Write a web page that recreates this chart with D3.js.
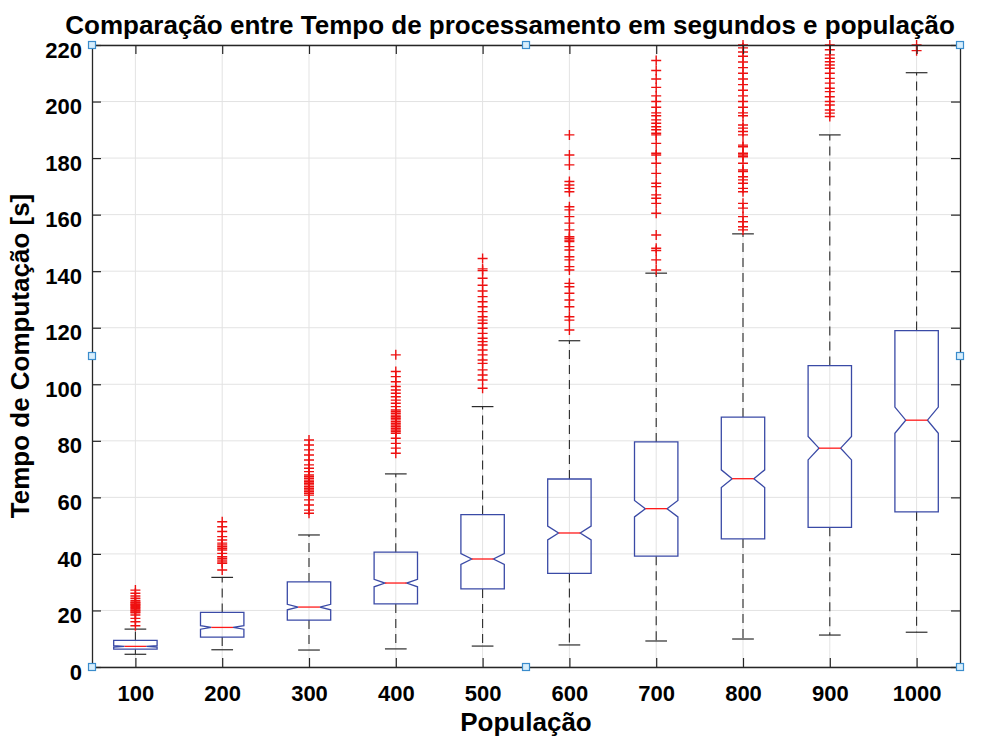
<!DOCTYPE html>
<html>
<head>
<meta charset="utf-8">
<script src="https://cdn.jsdelivr.net/npm/d3@7"></script>
<style>
  html, body { margin: 0; padding: 0; background: #ffffff; }
  svg { display: block; font-family: "Liberation Sans", Arial, Helvetica, sans-serif; }
</style>
</head>
<body>
<svg id="chart" width="988" height="740"></svg>
<script>
// ---------------- data ----------------
const categories = ["100", "200", "300", "400", "500", "600", "700", "800", "900", "1000"];
const yTickValues = [0, 20, 40, 60, 80, 100, 120, 140, 160, 180, 200, 220];

const q1Values      = [6.3, 10.6, 16.6, 22.3, 27.6, 33.1, 39.2, 45.3, 49.4, 54.9];
const medianValues  = [7.3, 14.0, 21.2, 29.7, 38.2, 47.4, 56.0, 66.6, 77.4, 87.3];
const q3Values      = [9.4, 19.3, 30.1, 40.6, 53.9, 66.5, 79.6, 88.4, 106.6, 119.0];
const lowerWhisker  = [4.5, 6.1, 6.0, 6.4, 7.4, 7.8, 9.2, 9.9, 11.3, 12.3];
const upperWhisker  = [13.4, 31.7, 46.7, 68.3, 92.1, 115.4, 139.3, 153.2, 188.2, 210.2];
const sampleSize = 470;

const outliers100 = [14.6, 16.0, 17.2, 18.4, 19.2, 19.5, 19.9, 20.2, 20.6, 21.0, 21.3, 21.7, 22.0, 22.3, 22.7, 23.0, 23.5, 24.3, 25.1, 26.1, 27.2];
const outliers200 = [34.3, 36.7, 37.2, 37.8, 38.4, 39.0, 40.2, 41.4, 42.0, 42.6, 43.2, 43.8, 44.9, 46.1, 47.9, 49.6, 51.4];
const outliers300 = [54.4, 55.5, 57.3, 59.1, 60.8, 61.4, 62.0, 62.6, 63.2, 63.8, 64.4, 65.0, 65.5, 66.1, 66.7, 67.3, 67.9, 69.1, 70.3, 71.5, 73.2, 75.0, 76.8, 78.5, 80.3];
const outliers400 = [75.6, 77.4, 79.1, 80.9, 82.7, 83.3, 83.8, 84.4, 85.0, 85.6, 86.2, 86.8, 87.4, 88.0, 88.5, 89.1, 89.7, 90.3, 90.9, 92.1, 93.3, 94.4, 95.6, 96.8, 98.0, 99.2, 100.9, 102.7, 104.5, 110.4];
const outliers500 = [98.6, 101.5, 103.3, 105.1, 107.4, 108.6, 110.4, 112.1, 113.9, 115.1, 116.3, 118.0, 119.8, 121.6, 122.7, 123.9, 125.7, 127.4, 129.2, 131.0, 133.0, 135.0, 137.5, 140.2, 140.8, 144.5];
const outliers600 = [119.2, 122.7, 123.9, 127.4, 129.8, 132.2, 134.5, 135.7, 140.4, 141.6, 144.0, 145.1, 147.5, 148.7, 150.5, 151.0, 151.6, 152.2, 154.6, 157.0, 159.3, 161.7, 162.8, 168.1, 169.3, 170.5, 171.7, 177.6, 181.1, 188.2];
const outliers700 = [140.4, 144.0, 147.3, 148.1, 152.8, 160.5, 164.0, 165.8, 167.0, 169.9, 171.1, 174.6, 178.2, 181.1, 181.7, 185.2, 188.2, 188.8, 190.0, 191.1, 192.3, 193.5, 195.0, 196.0, 198.0, 200.0, 202.0, 205.0, 208.0, 211.0, 214.5];
const outliers800 = [154.6, 155.7, 157.5, 159.3, 162.3, 164.0, 168.1, 169.3, 171.1, 172.3, 173.4, 175.2, 175.8, 178.2, 180.5, 181.1, 181.7, 184.0, 184.6, 188.2, 189.4, 190.6, 191.7, 195.0, 196.0, 198.0, 200.0, 202.0, 204.0, 206.0, 208.0, 210.0, 212.0, 214.0, 216.0, 217.5, 219.0, 220.0];
const outliers900 = [194.7, 195.9, 197.0, 198.8, 200.0, 201.7, 203.5, 204.7, 206.5, 208.2, 210.0, 211.8, 212.9, 214.1, 215.3, 216.5, 218.3, 220.0];
const outliers1000 = [218.0, 220.0];
const outlierLists = [outliers100, outliers200, outliers300, outliers400, outliers500,
                      outliers600, outliers700, outliers800, outliers900, outliers1000];

const titleText = "Comparação entre Tempo de processamento em segundos e população";
const xLabelText = "População";
const yLabelText = "Tempo de Computação [s]";

// ---------------- layout ----------------
const plot = { left: 92, right: 960, top: 45, bottom: 667 };
const svg = d3.select("#chart");

const x = d3.scaleLinear().domain([0.5, categories.length + 0.5]).range([plot.left, plot.right]);
const y = d3.scaleLinear().domain([0, 220]).range([plot.bottom, plot.top]);
const catIdx = d3.range(1, categories.length + 1);

const boxHalf = 0.25;            // box width 0.5 units
const axisColor = "#262626";
const gridColor = "#e3e3e3";
const boxColor = "#3a4aa6";
const medColor = "#ff1a1a";
const outColor = "#ee1111";
const whiskColor = "#2b2b2b";

// grid
const grid = svg.append("g");
grid.selectAll("line.gy").data(yTickValues).join("line")
  .attr("x1", plot.left).attr("x2", plot.right)
  .attr("y1", d => y(d)).attr("y2", d => y(d))
  .attr("stroke", gridColor).attr("stroke-width", 1);
grid.selectAll("line.gx").data(catIdx).join("line")
  .attr("x1", d => x(d)).attr("x2", d => x(d))
  .attr("y1", plot.top).attr("y2", plot.bottom)
  .attr("stroke", gridColor).attr("stroke-width", 1);

// boxes
const boxes = svg.append("g");
categories.forEach((c, i) => {
  const k = i + 1;
  const q1 = q1Values[i], q3 = q3Values[i], med = medianValues[i];
  const n = 1.57 * (q3 - q1) / Math.sqrt(sampleSize);
  const nlo = med - n, nhi = med + n;
  const g = boxes.append("g");
  // whiskers
  g.append("line").attr("x1", x(k)).attr("x2", x(k))
    .attr("y1", y(q3)).attr("y2", y(upperWhisker[i]))
    .attr("stroke", whiskColor).attr("stroke-width", 1.1).attr("stroke-dasharray", "9,6");
  g.append("line").attr("x1", x(k)).attr("x2", x(k))
    .attr("y1", y(q1)).attr("y2", y(lowerWhisker[i]))
    .attr("stroke", whiskColor).attr("stroke-width", 1.1).attr("stroke-dasharray", "9,6");
  [upperWhisker[i], lowerWhisker[i]].forEach(v => {
    g.append("line").attr("x1", x(k - boxHalf / 2)).attr("x2", x(k + boxHalf / 2))
      .attr("y1", y(v)).attr("y2", y(v))
      .attr("stroke", whiskColor).attr("stroke-width", 1.2);
  });
  // notched box
  const pts = [
    [k - boxHalf, q3], [k + boxHalf, q3], [k + boxHalf, nhi], [k + boxHalf / 2, med],
    [k + boxHalf, nlo], [k + boxHalf, q1], [k - boxHalf, q1], [k - boxHalf, nlo],
    [k - boxHalf / 2, med], [k - boxHalf, nhi]
  ];
  g.append("path")
    .attr("d", d3.line().x(p => x(p[0])).y(p => y(p[1]))(pts) + "Z")
    .attr("fill", "none").attr("stroke", boxColor).attr("stroke-width", 1.3);
  g.append("line").attr("x1", x(k - boxHalf / 2)).attr("x2", x(k + boxHalf / 2))
    .attr("y1", y(med)).attr("y2", y(med))
    .attr("stroke", medColor).attr("stroke-width", 1.3);
  // outliers
  const pl = 5;
  g.selectAll("path.out").data(outlierLists[i].filter(v => v <= 220)).join("path")
    .attr("d", v => {
      const cx = x(k), cy = y(v);
      return `M${cx - pl},${cy}H${cx + pl}M${cx},${cy - pl}V${cy + pl}`;
    })
    .attr("stroke", outColor).attr("stroke-width", 1.4).attr("fill", "none");
});

// axes
function styleAxis(g) {
  g.select(".domain").attr("stroke", axisColor).attr("stroke-width", 1.3);
  g.selectAll(".tick line").attr("stroke", axisColor).attr("stroke-width", 1.2);
  g.selectAll(".tick text").attr("fill", "#000").attr("font-size", 22).attr("font-weight", "bold")
    .attr("font-family", "'Liberation Sans', Arial, sans-serif");
}
const yAxis = svg.append("g").attr("transform", `translate(${plot.left},0)`)
  .call(d3.axisLeft(y).tickValues(yTickValues).tickFormat(d3.format("d")).tickSize(-9).tickSizeOuter(0).tickPadding(10));
styleAxis(yAxis);
yAxis.selectAll(".tick text").attr("dy", "0.55em");

const yAxisR = svg.append("g").attr("transform", `translate(${plot.right},0)`)
  .call(d3.axisRight(y).tickValues(yTickValues).tickFormat("").tickSize(-9).tickSizeOuter(0));
styleAxis(yAxisR);

const xAxis = svg.append("g").attr("transform", `translate(0,${plot.bottom})`)
  .call(d3.axisBottom(x).tickValues(catIdx).tickFormat(d => categories[d - 1]).tickSize(-9).tickSizeOuter(0).tickPadding(18));
styleAxis(xAxis);

const xAxisT = svg.append("g").attr("transform", `translate(0,${plot.top})`)
  .call(d3.axisTop(x).tickValues(catIdx).tickFormat("").tickSize(-9).tickSizeOuter(0));
styleAxis(xAxisT);

// selection handles
const handlePts = [
  [plot.left, plot.top], [(plot.left + plot.right) / 2, plot.top], [plot.right, plot.top],
  [plot.left, (plot.top + plot.bottom) / 2], [plot.right, (plot.top + plot.bottom) / 2],
  [plot.left, plot.bottom], [(plot.left + plot.right) / 2, plot.bottom], [plot.right, plot.bottom]
];
svg.append("g").selectAll("rect").data(handlePts).join("rect")
  .attr("x", d => d[0] - 3.5).attr("y", d => d[1] - 3.5)
  .attr("width", 7).attr("height", 7)
  .attr("fill", "#d8eefc").attr("stroke", "#3a8ccc").attr("stroke-width", 1.2);

// texts
svg.append("text").attr("x", 510).attr("y", 34).attr("text-anchor", "middle")
  .attr("font-size", 26).attr("font-weight", "bold").attr("fill", "#000").text(titleText);
svg.append("text").attr("x", (plot.left + plot.right) / 2).attr("y", 731).attr("text-anchor", "middle")
  .attr("font-size", 26).attr("font-weight", "bold").attr("fill", "#000").text(xLabelText);
svg.append("text").attr("transform", `translate(29,${(plot.top + plot.bottom) / 2}) rotate(-90)`)
  .attr("text-anchor", "middle")
  .attr("font-size", 26).attr("font-weight", "bold").attr("fill", "#000").text(yLabelText);
</script>
</body>
</html>
